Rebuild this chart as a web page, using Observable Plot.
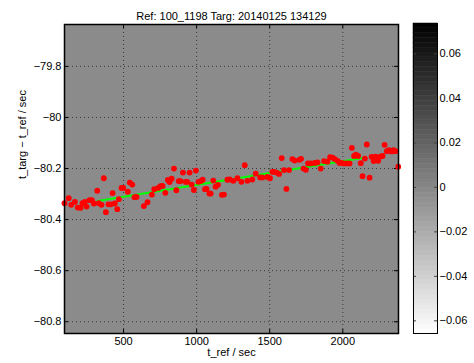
<!DOCTYPE html>
<html>
<head>
<meta charset="utf-8">
<script src="https://cdn.jsdelivr.net/npm/d3@7"></script>
<script src="https://cdn.jsdelivr.net/npm/@observablehq/plot@0.6"></script>
<style>
  body { margin: 0; background: #fff; }
  #wrap { position: relative; width: 474px; height: 363px; overflow: hidden; }
  #wrap svg { position: absolute; top: 0; }
</style>
</head>
<body>
<div id="wrap"></div>
<script>
const title = "Ref: 100_1198 Targ: 20140125 134129";
const xLabel = "t_ref / sec";
const yLabel = "t_targ \u2212 t_ref / sec";

const xTicks = [500, 1000, 1500, 2000];
const yTicks = [-80.8, -80.6, -80.4, -80.2, -80, -79.8];
const cbTicks = [-0.06, -0.04, -0.02, 0, 0.02, 0.04, 0.06];

const xDomain = [96, 2381];
const yDomain = [-80.846, -79.636];
const cbDomain = [-0.0657, 0.0737];

// measured points: reference time (s) and time offset (s)
const tRef = [96,125,142,167,187,206,219,235,247,267,283,297,320,331,349,365,379,397,413,425,440,457,468,486,498,529,543,560,575,589,639,664,694,710,738,753,767,786,803,815,829,845,861,877,890,906,925,936,952,966,981,995,1012,1029,1041,1057,1068,1087,1096,1114,1130,1146,1173,1187,1210,1226,1251,1279,1306,1329,1347,1381,1404,1434,1450,1484,1502,1518,1529,1548,1564,1582,1598,1614,1632,1655,1671,1703,1714,1731,1747,1762,1781,1808,1827,1849,1872,1895,1913,1930,1945,1964,1978,1991,2009,2027,2046,2062,2077,2089,2105,2123,2135,2151,2164,2183,2197,2211,2224,2242,2256,2272,2286,2301,2315,2333,2347,2361,2379];
const dT = [-80.336,-80.316,-80.342,-80.331,-80.353,-80.354,-80.336,-80.331,-80.349,-80.324,-80.324,-80.337,-80.287,-80.336,-80.342,-80.238,-80.371,-80.340,-80.340,-80.296,-80.337,-80.359,-80.320,-80.276,-80.276,-80.291,-80.255,-80.263,-80.312,-80.311,-80.347,-80.332,-80.302,-80.281,-80.276,-80.269,-80.268,-80.295,-80.245,-80.253,-80.240,-80.200,-80.285,-80.249,-80.249,-80.216,-80.252,-80.252,-80.216,-80.263,-80.284,-80.208,-80.252,-80.249,-80.244,-80.281,-80.280,-80.298,-80.298,-80.247,-80.271,-80.264,-80.303,-80.302,-80.244,-80.243,-80.248,-80.238,-80.252,-80.187,-80.248,-80.243,-80.220,-80.235,-80.235,-80.233,-80.238,-80.213,-80.213,-80.216,-80.221,-80.159,-80.206,-80.280,-80.206,-80.163,-80.169,-80.166,-80.162,-80.200,-80.205,-80.180,-80.180,-80.178,-80.176,-80.200,-80.171,-80.173,-80.155,-80.157,-80.163,-80.170,-80.178,-80.178,-80.180,-80.180,-80.180,-80.119,-80.151,-80.146,-80.151,-80.179,-80.230,-80.161,-80.106,-80.236,-80.154,-80.171,-80.153,-80.170,-80.153,-80.151,-80.107,-80.132,-80.128,-80.133,-80.128,-80.132,-80.193];

// fitted trend line end points
const fitT = [322, 2144];
const fitV = [-80.327, -80.158];

const points = tRef.map((t, i) => ({t, v: dT[i]}));
const fit = fitT.map((t, i) => ({t, v: fitV[i]}));

const font = "'Liberation Sans', Arial, Helvetica, sans-serif";
const fmt = d3.format("~g");

const W = 410, H = 363, mL = 64, mR = 12, mT = 24, mB = 30;
const innerW = W - mL - mR, innerH = H - mT - mB;

const main = Plot.plot({
  width: W, height: H,
  marginLeft: mL, marginRight: mR, marginTop: mT, marginBottom: mB,
  style: {fontFamily: font, fontSize: "11px", color: "#000", background: "transparent", overflow: "visible"},
  x: {domain: xDomain, ticks: xTicks, tickSize: 0, tickPadding: 4, label: null, tickFormat: fmt},
  y: {domain: yDomain, ticks: yTicks, tickSize: 0, tickPadding: 3, label: null, tickFormat: fmt},
  marks: [
    Plot.frame({fill: "#8b8b8b", stroke: null}),
    Plot.gridX(xTicks, {stroke: "#2a2a2a", strokeOpacity: 0.85, strokeDasharray: "1,3", strokeWidth: 1}),
    Plot.gridY(yTicks, {stroke: "#2a2a2a", strokeOpacity: 0.85, strokeDasharray: "1,3", strokeWidth: 1}),
    // inward ticks on all four sides
    Plot.tickX(xTicks, {x: d => d, insetTop: innerH - 4, stroke: "#000"}),
    Plot.tickX(xTicks, {x: d => d, insetBottom: innerH - 4, stroke: "#000"}),
    Plot.tickY(yTicks, {y: d => d, insetRight: innerW - 4, stroke: "#000"}),
    Plot.tickY(yTicks, {y: d => d, insetLeft: innerW - 4, stroke: "#000"}),
    Plot.line(fit, {x: "t", y: "v", stroke: "#00ff00", strokeWidth: 2}),
    Plot.dot(points, {x: "t", y: "v", r: 2.9, fill: "#ff0000", stroke: null}),
    Plot.frame({stroke: "#000", strokeWidth: 1.5}),
    Plot.axisX({anchor: "bottom", ticks: xTicks, tickSize: 0, tickPadding: 4, tickFormat: fmt, label: null}),
    Plot.axisY({anchor: "left", ticks: yTicks, tickSize: 0, tickPadding: 3, tickFormat: fmt, label: null}),
    Plot.text([title], {frameAnchor: "top", dy: -12, text: d => d, fontSize: 11}),
    Plot.text([xLabel], {frameAnchor: "bottom", dy: 22, text: d => d, fontSize: 11}),
    Plot.text([yLabel], {frameAnchor: "left", dx: -42, rotate: -90, text: d => d, fontSize: 11})
  ]
});
main.style.left = "0px";

// colorbar
const nLevels = 64;
const step = (cbDomain[1] - cbDomain[0]) / nLevels;
const levels = d3.range(nLevels).map(i => ({y1: cbDomain[0] + i * step, y2: cbDomain[0] + (i + 1) * step, c: cbDomain[0] + (i + 0.5) * step}));

const cbW = 74, cbL = 13, cbR = 37;
const cb = Plot.plot({
  width: cbW, height: H,
  marginLeft: cbL, marginRight: cbR, marginTop: 23, marginBottom: 30,
  style: {fontFamily: font, fontSize: "11px", color: "#000", background: "transparent", overflow: "visible"},
  x: {domain: [0, 1], axis: null},
  y: {domain: cbDomain, axis: null},
  color: {type: "linear", domain: cbDomain, range: ["#ffffff", "#000000"]},
  marks: [
    Plot.rect(levels, {x1: 0, x2: 1, y1: "y1", y2: "y2", fill: "c", stroke: "c", strokeWidth: 0.5}),
    Plot.tickY(cbTicks, {y: d => d, insetRight: cbW - cbL - cbR - 3, stroke: "#444"}),
    Plot.tickY(cbTicks, {y: d => d, insetLeft: cbW - cbL - cbR - 3, stroke: "#444"}),
    Plot.frame({stroke: "#000", strokeWidth: 1}),
    Plot.axisY({anchor: "right", ticks: cbTicks, tickSize: 0, tickPadding: 2, tickFormat: fmt, label: null})
  ]
});
cb.style.left = "400px";

const wrap = document.getElementById("wrap");
wrap.appendChild(main);
wrap.appendChild(cb);
</script>
</body>
</html>
